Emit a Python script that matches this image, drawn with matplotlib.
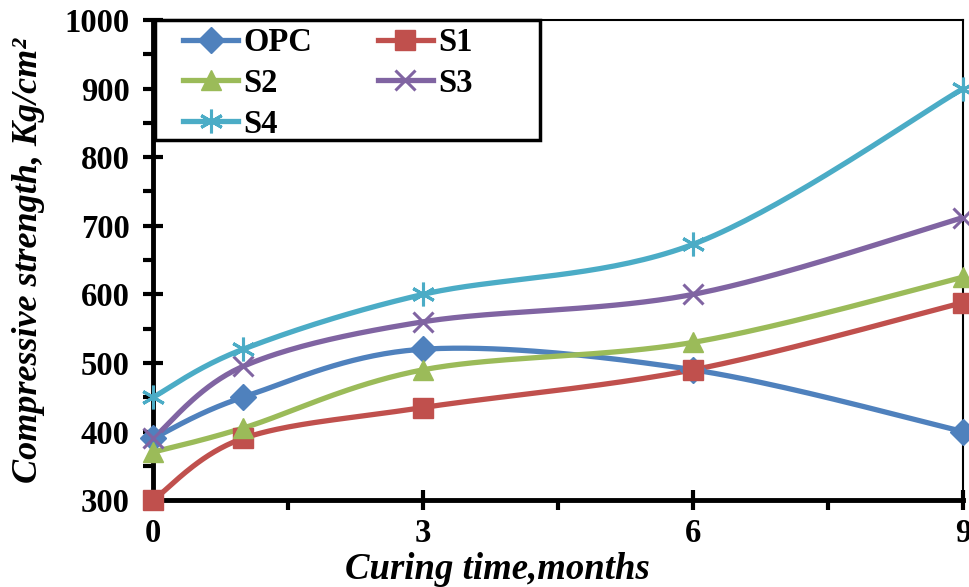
import numpy as np
import matplotlib.pyplot as plt
from matplotlib.ticker import MultipleLocator
from matplotlib.patches import Rectangle

# Data
months = [0, 1, 3, 6, 9]
opc = [390, 450, 520, 490, 400]
s1 = [300, 390, 435, 490, 588]
s2 = [370, 405, 490, 530, 625]
s3 = [390, 495, 560, 600, 712]
s4 = [450, 520, 600, 673, 900]

names = ["OPC", "S1", "S2", "S3", "S4"]
series = [opc, s1, s2, s3, s4]
colors = ["#4F81BD", "#C0504D", "#9BBB59", "#8064A2", "#4BACC6"]
markers = ["D", "s", "^", "x", (6, 2, 0)]
msizes = [13, 14, 15, 15, 17]

plt.rcParams['font.family'] = ['Liberation Serif', 'DejaVu Serif']
plt.rcParams['font.weight'] = 'bold'


def smooth(xs, ys, n=40):
    # Excel-like smoothed line: cubic Bezier through the points
    xs = np.asarray(xs, float)
    ys = np.asarray(ys, float)
    sx, sy = 9.0, 700.0 * 0.6
    P = np.column_stack([xs / sx, ys / sy])
    out = []
    t = np.linspace(0, 1, n)[:, None]
    for i in range(len(P) - 1):
        p0 = P[i - 1] if i > 0 else P[i]
        p3 = P[i + 2] if i + 2 < len(P) else P[i + 1]
        c1 = P[i] + (P[i + 1] - p0) / 6
        c2 = P[i + 1] - (p3 - P[i]) / 6
        seg = ((1 - t) ** 3 * P[i] + 3 * (1 - t) ** 2 * t * c1
               + 3 * (1 - t) * t ** 2 * c2 + t ** 3 * P[i + 1])
        out.append(seg)
    out = np.vstack(out)
    return out[:, 0] * sx, out[:, 1] * sy


fig = plt.figure(figsize=(9.69, 5.87), dpi=100)
ax = fig.add_axes([0.158, 0.148, 0.836, 0.818])

handles = {}
for name, ys, c, m, ms in zip(names, series, colors, markers, msizes):
    mew = 2.2 if m in ("x", (6, 2, 0)) else 1
    cx, cy = smooth(months, ys)
    ax.plot(cx, cy, color=c, lw=3.8, solid_capstyle='round', zorder=3)
    ax.plot(months, ys, linestyle='none', marker=m, color=c, markersize=ms,
            markeredgewidth=mew, zorder=4, clip_on=False)
    handles[name], = ax.plot([], [], color=c, lw=3.8, marker=m,
                             markersize=ms, markeredgewidth=mew, label=name)

ax.set_xlim(0, 9)
ax.set_ylim(300, 1000)
ax.xaxis.set_major_locator(MultipleLocator(3))
ax.xaxis.set_minor_locator(MultipleLocator(1.5))
ax.yaxis.set_major_locator(MultipleLocator(100))
ax.yaxis.set_minor_locator(MultipleLocator(50))

ax.spines['left'].set_linewidth(3.5)
ax.spines['bottom'].set_linewidth(3.5)
ax.spines['top'].set_linewidth(1.5)
ax.spines['right'].set_linewidth(1.5)
ax.tick_params(which='major', direction='inout', length=14, width=3,
               labelsize=23.5, top=False, right=False)
ax.tick_params(which='minor', direction='out', length=7, width=3,
               top=False, right=False)
ax.tick_params(axis='y', pad=10)
ax.tick_params(axis='x', pad=6)

ax.set_ylabel("Compressive strength, Kg/cm²", fontsize=26, style='italic',
              fontweight='bold')
ax.yaxis.set_label_coords(-0.133, 0.5)
ax.set_xlabel("Curing time,months", fontsize=26.5, style='italic',
              fontweight='bold')
ax.xaxis.set_label_coords(0.425, -0.108)

# legend rows filled left to right as in the original
order = ["OPC", "S2", "S4", "S1", "S3"]
leg = fig.legend([handles[k] for k in order], order, ncol=2, fontsize=23.5,
                 frameon=False, loc='upper left',
                 bbox_to_anchor=(183 / 969, 1 - 27 / 587),
                 borderpad=0, borderaxespad=0, handlelength=1.7,
                 handletextpad=0.15, columnspacing=2.0, labelspacing=0.3)
fig.add_artist(Rectangle((155 / 969, 1 - 140 / 587), 385 / 969, 120 / 587,
                         transform=fig.transFigure, fill=True,
                         facecolor='white', edgecolor='black', lw=2.5,
                         zorder=4))
leg.set_zorder(5)

fig.savefig("out.png", dpi=100)
